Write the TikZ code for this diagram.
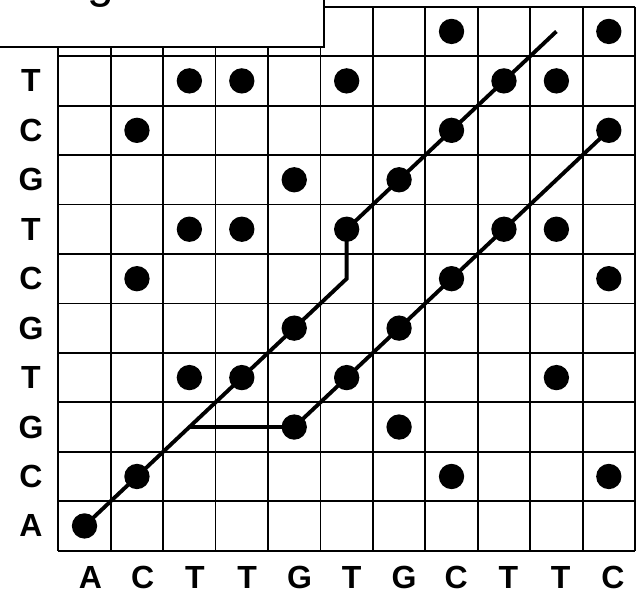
\documentclass[tikz,border=0pt]{standalone}
\usepackage{fontspec}
\setmainfont{Liberation Sans}
\begin{document}
\begin{tikzpicture}[x=0.75pt,y=-0.75pt,
  gridline/.style={line width=1.35pt},
  pathline/.style={line width=2.9pt,line join=miter},
  dot/.style={circle,fill=black,inner sep=0pt,minimum size=19pt},
  lbl/.style={font=\fontsize{24}{24}\selectfont\bfseries,inner sep=0pt},
  titlebox/.style={draw=black,fill=white,line width=1.3pt}]
\useasboundingbox (0,0) rectangle (641,597);
\def\gx{58.3}\def\gy{6.7}\def\cw{52.43}\def\rh{49.45}
% grid
\foreach \i in {0,...,11}{
  \draw[gridline] ({\gx+\i*\cw},\gy) -- ({\gx+\i*\cw},{\gy+11*\rh});
  \draw[gridline] (\gx,{\gy+\i*\rh}) -- ({\gx+11*\cw},{\gy+\i*\rh});
}
% dots
\foreach \c/\r in {8/0,11/0,
  3/1,4/1,6/1,9/1,10/1,
  2/2,8/2,11/2,
  5/3,7/3,
  3/4,4/4,6/4,9/4,10/4,
  2/5,8/5,11/5,
  5/6,7/6,
  3/7,4/7,6/7,10/7,
  5/8,7/8,
  2/9,8/9,11/9,
  1/10}
  \node[dot] (d\c-\r) at ({\gx+(\c-0.5)*\cw},{\gy+(\r+0.5)*\rh}) {};
% bend points
\coordinate (p3-8) at ({\gx+2.5*\cw},{\gy+8.5*\rh});
\coordinate (p6-5) at ({\gx+5.5*\cw},{\gy+5.5*\rh});
\coordinate (p10-0) at ({\gx+9.5*\cw},{\gy+0.5*\rh});
\coordinate (p10-3) at ({\gx+9.5*\cw},{\gy+3.5*\rh});
% alignment paths
\draw[pathline] (d1-10.center) -- (d2-9.center) -- (p3-8) -- (d4-7.center)
  -- (d5-6.center) -- (p6-5) -- (d6-4.center) -- (d7-3.center)
  -- (d8-2.center) -- (d9-1.center) -- (p10-0);
\draw[pathline] (p3-8) -- (d5-8.center) -- (d6-7.center) -- (d7-6.center)
  -- (d8-5.center) -- (d9-4.center) -- (p10-3) -- (d11-2.center);
% row labels
\foreach \r/\t in {1/T,2/C,3/G,4/T,5/C,6/G,7/T,8/G,9/C,10/A}
  \node[lbl] (r\r) at (31,{\gy+(\r+0.5)*\rh}) {\t};
% column labels
\foreach \c/\t in {1/A,2/C,3/T,4/T,5/G,6/T,7/G,8/C,9/T,10/T,11/C}
  \node[lbl] (c\c) at ({90.5+(\c-1)*52.25},577.5) {\t};
% title box
\draw[titlebox] (-10,-80) rectangle (324,46.7);
\node[anchor=base west,font=\fontsize{36}{36}\selectfont,inner sep=0pt] (title) at (87,-2.7) {g};
\end{tikzpicture}
\end{document}
